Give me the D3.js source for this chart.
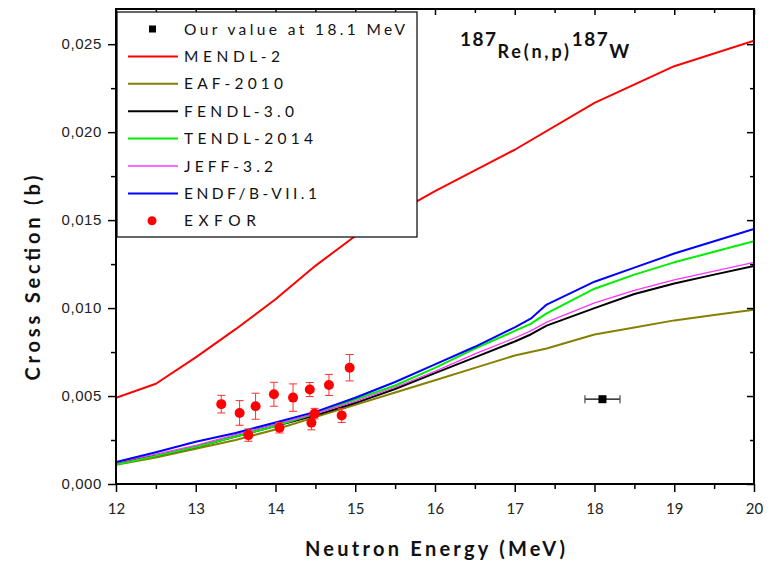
<!DOCTYPE html>
<html>
<head>
<meta charset="utf-8">
<script src="https://cdn.jsdelivr.net/npm/d3@7"></script>
<style>
  html, body { margin: 0; padding: 0; background: #fff; }
  svg { display: block; font-family: Lato, "Open Sans", sans-serif; }
</style>
</head>
<body>
<svg id="chart" width="770" height="563"></svg>
<script>
// ---------- DATA ----------
const xTicks = [12, 13, 14, 15, 16, 17, 18, 19, 20];
const yTicks = [0, 0.005, 0.010, 0.015, 0.020, 0.025];
const yTickLabels = ["0,000", "0,005", "0,010", "0,015", "0,020", "0,025"];

const mendlE  = [12, 12.5, 13, 13.5, 14, 14.5, 15, 16, 17, 18, 19, 20];
const mendlXS = [0.0049, 0.0057, 0.0072, 0.0088, 0.0105, 0.0124, 0.0141, 0.01665, 0.0190, 0.02166, 0.02375, 0.0252];

const gridE = [12, 12.5, 13, 13.5, 14, 14.5, 15, 15.5, 16, 16.5, 17, 17.2, 17.4, 18, 18.5, 19, 19.5, 20];
const eafXS   = [0.0011, 0.0015, 0.0020, 0.0025, 0.0031, 0.0038, 0.0045, 0.0052, 0.0059, 0.0066, 0.0073, 0.0075, 0.0077, 0.0085, 0.0089, 0.0093, 0.0096, 0.0099];
const fendlXS = [0.0012, 0.0016, 0.0021, 0.0027, 0.0033, 0.0039, 0.0046, 0.0054, 0.0063, 0.0072, 0.0081, 0.0085, 0.0090, 0.0100, 0.0108, 0.0114, 0.0119, 0.0124];
const tendlXS = [0.0011, 0.0016, 0.0021, 0.0027, 0.0033, 0.0040, 0.0048, 0.0056, 0.0066, 0.0077, 0.0087, 0.0091, 0.0097, 0.0111, 0.0119, 0.0126, 0.0132, 0.0138];
const jeffXS  = [0.0012, 0.0017, 0.0022, 0.0028, 0.0034, 0.0040, 0.0047, 0.0055, 0.0064, 0.0074, 0.0083, 0.0087, 0.0092, 0.0103, 0.0110, 0.0116, 0.0121, 0.0126];
const endfXS  = [0.00125, 0.0018, 0.0024, 0.0029, 0.0035, 0.0041, 0.0049, 0.0058, 0.0068, 0.0078, 0.0089, 0.0094, 0.0102, 0.0115, 0.0123, 0.0131, 0.0138, 0.0145];

const exforE   = [13.32, 13.55, 13.66, 13.75, 13.98, 14.05, 14.22, 14.43, 14.45, 14.49, 14.67, 14.83, 14.93];
const exforXS  = [0.00454, 0.00404, 0.00278, 0.00442, 0.0051, 0.0032, 0.00491, 0.00537, 0.00348, 0.0040, 0.00563, 0.0039, 0.00661];
const exforErr = [0.0005, 0.0007, 0.00035, 0.00074, 0.00068, 0.0003, 0.00078, 0.0004, 0.0004, 0.0003, 0.0006, 0.0004, 0.00075];

const ourE = [18.1];
const ourXS = [0.00482];
const ourEErr = [0.22];

const legendLabels = ["Our value at 18.1 MeV", "MENDL-2", "EAF-2010", "FENDL-3.0", "TENDL-2014", "JEFF-3.2", "ENDF/B-VII.1", "EXFOR"];

// ---------- STYLE / LAYOUT ----------
const W = 770, H = 563;
const plot = { left: 116, right: 754, top: 9, bottom: 484 };
const legendTextWidths = [221, 96, 99, 110, 129, 89, 133, 72];

const series = [
  { E: mendlE, XS: mendlXS, color: "#ff0000", width: 2 },
  { E: gridE, XS: eafXS,   color: "#858000", width: 2 },
  { E: gridE, XS: fendlXS, color: "#000000", width: 2 },
  { E: gridE, XS: tendlXS, color: "#00ee00", width: 2 },
  { E: gridE, XS: jeffXS,  color: "#ff33ff", width: 1.3 },
  { E: gridE, XS: endfXS,  color: "#0000ff", width: 2 }
];

const svg = d3.select("#chart");
const x = d3.scaleLinear().domain([12, 20]).range([plot.left, plot.right]);
const y = d3.scaleLinear().domain([0, 0.027]).range([plot.bottom, plot.top]);

const clipId = "plotclip";
svg.append("defs").append("clipPath").attr("id", clipId)
  .append("rect").attr("x", plot.left).attr("y", plot.top)
  .attr("width", plot.right - plot.left).attr("height", plot.bottom - plot.top);

const g = svg.append("g").attr("clip-path", `url(#${clipId})`);

// lines
const line = d3.line();
series.forEach(s => {
  const pts = s.E.map((e, i) => [x(e), y(s.XS[i])]);
  g.append("path").attr("d", line(pts))
    .attr("fill", "none").attr("stroke", s.color)
    .attr("stroke-width", s.width).attr("stroke-linejoin", "round");
});

// EXFOR error bars + points
const cap = 4;
exforE.forEach((e, i) => {
  const cx = x(e), y1 = y(exforXS[i] + exforErr[i]), y2 = y(exforXS[i] - exforErr[i]);
  const eb = g.append("g").attr("stroke", "#ff3030").attr("stroke-width", 1);
  eb.append("line").attr("x1", cx).attr("x2", cx).attr("y1", y1).attr("y2", y2);
  eb.append("line").attr("x1", cx - cap).attr("x2", cx + cap).attr("y1", y1).attr("y2", y1);
  eb.append("line").attr("x1", cx - cap).attr("x2", cx + cap).attr("y1", y2).attr("y2", y2);
});
g.selectAll("circle.exfor").data(exforE).enter().append("circle")
  .attr("class", "exfor")
  .attr("cx", d => x(d)).attr("cy", (d, i) => y(exforXS[i]))
  .attr("r", 5).attr("fill", "#ff0000");

// Our value
ourE.forEach((e, i) => {
  const cy = y(ourXS[i]), xa = x(e - ourEErr[i]), xb = x(e + ourEErr[i]);
  const eb = g.append("g").attr("stroke", "#000").attr("stroke-width", 1.3);
  eb.append("line").attr("x1", xa).attr("x2", xb).attr("y1", cy).attr("y2", cy);
  eb.append("line").attr("x1", xa).attr("x2", xa).attr("y1", cy - 4).attr("y2", cy + 4).attr("stroke", "#555");
  eb.append("line").attr("x1", xb).attr("x2", xb).attr("y1", cy - 4).attr("y2", cy + 4).attr("stroke", "#555");
  g.append("rect").attr("x", x(e) - 4).attr("y", cy - 4).attr("width", 8).attr("height", 8).attr("fill", "#000");
});

// ---------- AXES ----------
const axisStyle = sel => {
  sel.select(".domain").remove();
  sel.selectAll("line").attr("stroke", "#000").attr("stroke-width", 1.5);
};
const xMinor = d3.range(12.5, 20, 1);
const yMinor = d3.range(0.0025, 0.027, 0.005);

// bottom
const bx = svg.append("g").attr("transform", `translate(0,${plot.bottom})`)
  .call(d3.axisBottom(x).tickValues(xTicks).tickSize(8).tickPadding(11).tickFormat(d3.format("d")));
axisStyle(bx);
bx.selectAll("text").attr("font-size", 15).attr("fill", "#222").attr("font-family", "Lato, sans-serif");
svg.append("g").attr("transform", `translate(0,${plot.bottom})`)
  .call(d3.axisBottom(x).tickValues(xMinor).tickSize(5).tickFormat("")).call(axisStyle);

// left
const ly = svg.append("g").attr("transform", `translate(${plot.left},0)`)
  .call(d3.axisLeft(y).tickValues(yTicks).tickSize(8).tickPadding(6).tickFormat((d, i) => yTickLabels[i]));
axisStyle(ly);
ly.selectAll("text").attr("font-size", 15).attr("fill", "#222").attr("letter-spacing", 0.6);
svg.append("g").attr("transform", `translate(${plot.left},0)`)
  .call(d3.axisLeft(y).tickValues(yMinor).tickSize(5).tickFormat("")).call(axisStyle);

// top (inward)
svg.append("g").attr("transform", `translate(0,${plot.top})`)
  .call(d3.axisBottom(x).tickValues(xTicks).tickSize(6).tickFormat("")).call(axisStyle);
svg.append("g").attr("transform", `translate(0,${plot.top})`)
  .call(d3.axisBottom(x).tickValues(xMinor).tickSize(4).tickFormat("")).call(axisStyle);
// right (inward)
svg.append("g").attr("transform", `translate(${plot.right},0)`)
  .call(d3.axisLeft(y).tickValues(yTicks).tickSize(7).tickFormat("")).call(axisStyle);
svg.append("g").attr("transform", `translate(${plot.right},0)`)
  .call(d3.axisLeft(y).tickValues(yMinor).tickSize(4).tickFormat("")).call(axisStyle);

// frame
svg.append("rect").attr("x", plot.left).attr("y", plot.top)
  .attr("width", plot.right - plot.left).attr("height", plot.bottom - plot.top)
  .attr("fill", "none").attr("stroke", "#000").attr("stroke-width", 2);

// ---------- LEGEND ----------
const lg = svg.append("g");
lg.append("rect").attr("x", 117).attr("y", 12).attr("width", 300).attr("height", 225)
  .attr("fill", "#fff").attr("stroke", "#000").attr("stroke-width", 1.2);
const legendY0 = 29, legendDy = 27.4;
legendLabels.forEach((lab, i) => {
  const yy = legendY0 + i * legendDy;
  if (i === 0) {
    lg.append("rect").attr("x", 149).attr("y", yy - 3.5).attr("width", 7).attr("height", 7).attr("fill", "#000");
  } else if (i === legendLabels.length - 1) {
    lg.append("circle").attr("cx", 152).attr("cy", yy).attr("r", 4.5).attr("fill", "#ff0000");
  } else {
    const s = series[i - 1];
    lg.append("line").attr("x1", 128).attr("x2", 178).attr("y1", yy).attr("y2", yy)
      .attr("stroke", s.color).attr("stroke-width", s.width);
  }
  lg.append("text").attr("x", 184).attr("y", yy).attr("dy", "0.36em")
    .attr("font-size", 15.5).attr("fill", "#111")
    .attr("textLength", legendTextWidths[i]).attr("lengthAdjust", "spacing")
    .text(lab);
});

// ---------- TITLES ----------
const title = svg.append("text").attr("x", 460).attr("y", 46)
  .attr("font-weight", "bold").attr("fill", "#111");
title.append("tspan").attr("font-size", 19).attr("letter-spacing", 1.5).text("187");
title.append("tspan").attr("dy", 12).attr("font-size", 18).attr("letter-spacing", 2.8).text("Re(n,p)");
title.append("tspan").attr("dy", -12).attr("font-size", 19).attr("letter-spacing", 1.5).text("187");
title.append("tspan").attr("dy", 12).attr("font-size", 19).text("W");

svg.append("text").attr("x", (plot.left + plot.right) / 2).attr("y", 556)
  .attr("text-anchor", "middle").attr("font-weight", "bold").attr("font-size", 20)
  .attr("fill", "#111").attr("textLength", 260).attr("lengthAdjust", "spacing")
  .text("Neutron Energy (MeV)");

svg.append("text").attr("transform", "translate(40,278) rotate(-90)")
  .attr("text-anchor", "middle").attr("font-weight", "bold").attr("font-size", 20)
  .attr("fill", "#111").attr("textLength", 205).attr("lengthAdjust", "spacing")
  .text("Cross Section (b)");
</script>
</body>
</html>
